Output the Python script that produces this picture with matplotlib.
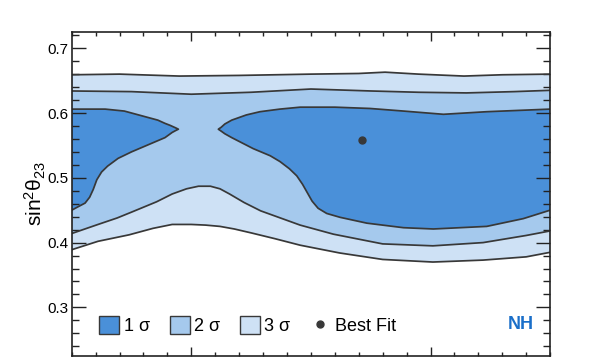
import numpy as np
import matplotlib.pyplot as plt
from matplotlib.patches import Patch
from matplotlib.lines import Line2D
from matplotlib.ticker import MultipleLocator, FixedLocator

plt.rcParams['font.family'] = 'Liberation Sans'
plt.rcParams['mathtext.fontset'] = 'custom'
plt.rcParams['mathtext.rm'] = 'Liberation Sans'
plt.rcParams['mathtext.it'] = 'Liberation Sans'

# --- contour boundaries, x = delta_CP / pi ---
# 3 sigma band
x3_up = [-1.0, -0.8, -0.55, -0.3, 0.0, 0.2, 0.31, 0.45, 0.64, 0.8, 1.0]
y3_up = [0.659, 0.660, 0.657, 0.658, 0.660, 0.661, 0.663, 0.660, 0.657, 0.659, 0.660]
x3_lo = [-1.0, -0.89, -0.76, -0.66, -0.58, -0.50, -0.44, -0.38, -0.32, -0.25, -0.15, -0.045, 0.12, 0.30, 0.51, 0.72, 0.90, 1.0]
y3_lo = [0.389, 0.402, 0.412, 0.422, 0.428, 0.428, 0.427, 0.425, 0.421, 0.415, 0.406, 0.396, 0.384, 0.374, 0.370, 0.373, 0.378, 0.385]

# 2 sigma band
x2_up = [-1.0, -0.75, -0.5, -0.25, 0.0, 0.25, 0.45, 0.65, 0.85, 1.0]
y2_up = [0.634, 0.633, 0.629, 0.632, 0.637, 0.634, 0.632, 0.631, 0.633, 0.635]
x2_lo = [-1.0, -0.89, -0.81, -0.75, -0.645, -0.58, -0.52, -0.47, -0.42, -0.38, -0.34, -0.28, -0.21, -0.12, -0.045, 0.094, 0.30, 0.51, 0.72, 0.90, 1.0]
y2_lo = [0.414, 0.428, 0.438, 0.447, 0.463, 0.475, 0.483, 0.487, 0.487, 0.483, 0.475, 0.462, 0.449, 0.437, 0.427, 0.413, 0.398, 0.395, 0.400, 0.411, 0.418]

# 1 sigma, left lobe (top edge to tip, then back along the bottom)
x1l_top = [-1.0, -0.86, -0.78, -0.70, -0.64, -0.61, -0.589, -0.565, -0.554]
y1l_top = [0.606, 0.606, 0.603, 0.595, 0.589, 0.584, 0.581, 0.577, 0.575]
x1l_bot = [-0.554, -0.565, -0.58, -0.61, -0.68, -0.75, -0.806, -0.85, -0.875, -0.895, -0.910, -0.925, -0.944, -0.975, -1.0]
y1l_bot = [0.575, 0.573, 0.570, 0.562, 0.551, 0.540, 0.530, 0.518, 0.509, 0.497, 0.482, 0.470, 0.461, 0.455, 0.450]

# 1 sigma, right lobe (both edges start at the tip)
x1r_top = [-0.387, -0.375, -0.36, -0.331, -0.27, -0.213, -0.13, -0.045, 0.1, 0.247, 0.387, 0.554, 0.735, 1.0]
y1r_top = [0.575, 0.578, 0.583, 0.589, 0.597, 0.602, 0.606, 0.609, 0.609, 0.607, 0.603, 0.598, 0.602, 0.606]
x1r_bot = [-0.387, -0.375, -0.36, -0.331, -0.241, -0.17, -0.129, -0.09, -0.059, -0.035, -0.015, 0.005, 0.03, 0.066, 0.122, 0.234, 0.387, 0.512, 0.735, 0.888, 1.0]
y1r_bot = [0.575, 0.572, 0.568, 0.562, 0.545, 0.534, 0.525, 0.514, 0.503, 0.490, 0.477, 0.464, 0.453, 0.445, 0.439, 0.430, 0.423, 0.421, 0.425, 0.437, 0.450]

best_x = 0.213
best_y = 0.558

C1 = '#4a90d9'
C2 = '#a5c9ed'
C3 = '#cee1f5'
EDGE = '#383838'

fig = plt.figure(figsize=(5.98, 3.58), dpi=100)
ax = fig.add_axes([0.1199, 0.0056, 0.8, 0.905])

# filled regions
ax.fill(x3_lo + x3_up[::-1], y3_lo + y3_up[::-1], facecolor=C3, edgecolor='none')
ax.fill(x2_lo + x2_up[::-1], y2_lo + y2_up[::-1], facecolor=C2, edgecolor='none')
ax.fill(x1l_top + x1l_bot, y1l_top + y1l_bot, facecolor=C1, edgecolor='none')
ax.fill(x1r_top + x1r_bot[::-1], y1r_top + y1r_bot[::-1], facecolor=C1, edgecolor='none')

# contour lines
lw = 1.25
for xs, ys in [(x3_up, y3_up), (x3_lo, y3_lo), (x2_up, y2_up), (x2_lo, y2_lo),
               (x1l_top + x1l_bot, y1l_top + y1l_bot),
               (x1r_top[::-1] + x1r_bot, y1r_top[::-1] + y1r_bot)]:
    ax.plot(xs, ys, color=EDGE, lw=lw, solid_joinstyle='round')

ax.plot(best_x, best_y, 'o', color=EDGE, ms=5)

ax.set_xlim(-1, 1)
ax.set_ylim(0.225, 0.725)

ax.xaxis.set_major_locator(FixedLocator([-0.5, 0.5]))
ax.xaxis.set_minor_locator(MultipleLocator(0.1))
ax.yaxis.set_minor_locator(MultipleLocator(0.02))
ax.set_yticks([0.3, 0.4, 0.5, 0.6, 0.7])
ax.set_yticklabels(['0.3', '0.4', '0.5', '0.6', '0.7'])

ax.tick_params(which='both', direction='in', top=True, right=True, labelbottom=False,
               width=1.0, color='#222222')
ax.tick_params(axis='x', which='major', length=6.7)
ax.tick_params(axis='x', which='minor', length=3.1)
ax.tick_params(axis='y', which='major', length=10.3, labelsize=11, pad=2.5)
ax.tick_params(axis='y', which='minor', length=5.3)
for s in ax.spines.values():
    s.set_linewidth(1.2)
    s.set_color('#222222')

ax.set_ylabel(r'sin$^2\theta_{23}$', fontsize=15, labelpad=-1)

handles = [Patch(facecolor=C1, edgecolor=EDGE, lw=1.0),
           Patch(facecolor=C2, edgecolor=EDGE, lw=1.0),
           Patch(facecolor=C3, edgecolor=EDGE, lw=1.0),
           Line2D([], [], ls='none', marker='o', color=EDGE, ms=5)]
labels = ['1 σ', '2 σ', '3 σ', 'Best Fit']
ax.legend(handles, labels, loc='center left', bbox_to_anchor=(0.0577, 0.0935),
          ncol=4, frameon=False, fontsize=13, borderpad=0, borderaxespad=0,
          handlelength=1.1, handleheight=1.1, handletextpad=0.25, columnspacing=1.1)

ax.text(0.965, 0.0957, 'NH', transform=ax.transAxes, ha='right', va='center',
        fontsize=13, fontweight='bold', color='#1a6fc9')

fig.savefig('out.png', dpi=100)
